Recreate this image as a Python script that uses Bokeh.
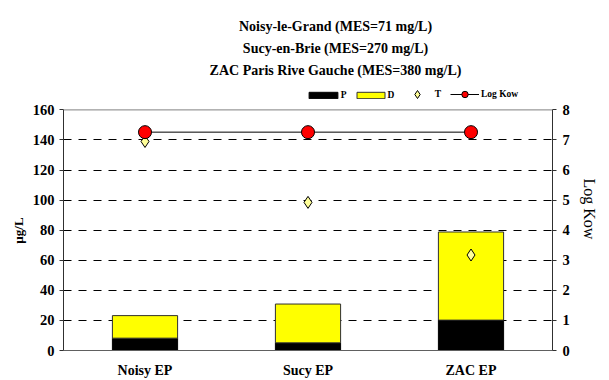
import math
from bokeh.plotting import figure
from bokeh.models import (FactorRange, Range1d, LinearAxis, FixedTicker, ColumnDataSource,
                          Legend, LegendItem, Label, Span)
from bokeh.embed import file_html
from bokeh.resources import INLINE

# ---- data ----
sites = ["Noisy EP", "Sucy EP", "ZAC EP"]
particulate = [8.2, 5.1, 20.2]          # P (µg/L)
dissolved = [15.0, 25.8, 58.6]          # D (µg/L)
total_T = [139.0, 98.5, 63.5]           # T (µg/L)
log_kow = [7.26, 7.26, 7.26]            # Log Kow (right axis)
y_ticks = [0, 20, 40, 60, 80, 100, 120, 140, 160]
kow_ticks = [0, 1, 2, 3, 4, 5, 6, 7, 8]
title_lines = ["Noisy-le-Grand (MES=71 mg/L)",
               "Sucy-en-Brie (MES=270 mg/L)",
               "ZAC Paris Rive Gauche (MES=380 mg/L)"]
legend_labels = ["P", "D", "T", "Log Kow"]
left_label = "µg/L"
right_label = "Log Kow"

FONT = "Liberation Serif"

# ---- layout (pixels) ----
W, H = 609, 380
FRAME_LEFT, FRAME_RIGHT = 63, 556
FRAME_TOP, AXIS_TOP, AXIS_BOTTOM = 6, 110, 352
stretch = (AXIS_BOTTOM - FRAME_TOP) / (AXIS_BOTTOM - AXIS_TOP)
NBSP = "\u00a0"

src = ColumnDataSource(dict(
    site=sites,
    p=particulate,
    d_top=[a + b for a, b in zip(particulate, dissolved)],
    t=total_T,
    kow=log_kow,
    zero=[0] * len(sites),
))

p = figure(x_range=FactorRange(*sites, range_padding=0),
           y_range=Range1d(y_ticks[0], y_ticks[-1] * stretch),
           width=W, height=H, output_backend="svg", toolbar_location=None,
           min_border_left=FRAME_LEFT, min_border_right=W - FRAME_RIGHT,
           min_border_top=FRAME_TOP, min_border_bottom=H - AXIS_BOTTOM)
p.extra_y_ranges = {"kow": Range1d(kow_ticks[0], kow_ticks[-1] * stretch)}

p.outline_line_color = None
p.background_fill_color = "white"
p.border_fill_color = "white"

# grid
p.xgrid.visible = False
p.ygrid.ticker = FixedTicker(ticks=y_ticks[:-1])
p.ygrid.grid_line_color = "black"
p.ygrid.grid_line_dash = "8 7"
p.ygrid.grid_line_width = 1
p.add_layout(Span(location=y_ticks[-1], dimension="width", line_color="#808080", line_width=1))

# x axis
xa = p.xaxis[0]
xa.major_tick_out = 0
xa.major_tick_in = 0
xa.major_label_text_font = FONT
xa.major_label_text_font_style = "bold"
xa.major_label_text_font_size = "14px"
xa.major_label_text_color = "black"
xa.major_label_standoff = 12
xa.axis_line_color = "#606060"

# left axis (label padded so that it is centred on the 0-160 part)
ya = p.yaxis[0]
ya.ticker = FixedTicker(ticks=y_ticks)
ya.bounds = (y_ticks[0], y_ticks[-1])
ya.major_tick_in = 0
ya.major_tick_out = 4
ya.minor_tick_line_color = None
ya.axis_line_color = "#303030"
ya.major_tick_line_color = "#303030"
ya.major_label_text_font = FONT
ya.major_label_text_font_style = "bold"
ya.major_label_text_font_size = "14.5px"
ya.major_label_text_color = "black"
ya.major_label_standoff = 5
ya.axis_label = left_label + NBSP * 32
ya.axis_label_text_font = FONT
ya.axis_label_text_font_style = "bold"
ya.axis_label_text_font_size = "13px"
ya.axis_label_text_color = "black"
ya.axis_label_standoff = 4

ra = LinearAxis(y_range_name="kow", ticker=FixedTicker(ticks=kow_ticks))
ra.bounds = (kow_ticks[0], kow_ticks[-1])
ra.major_tick_in = 0
ra.major_tick_out = 4
ra.minor_tick_line_color = None
ra.axis_line_color = "#303030"
ra.major_tick_line_color = "#303030"
ra.major_label_text_font = FONT
ra.major_label_text_font_style = "bold"
ra.major_label_text_font_size = "14.5px"
ra.major_label_text_color = "black"
ra.major_label_standoff = 6
ra.axis_label_text_font = FONT
ra.axis_label_text_font_style = "normal"
ra.axis_label_text_font_size = "16px"
ra.axis_label_text_color = "black"
ra.axis_label_standoff = 17
if "axis_label_orientation" in LinearAxis.properties():
    # read bottom-to-top, like the reference
    ra.axis_label_orientation = -math.pi / 2
    ra.axis_label = right_label + NBSP * 34
else:
    ra.axis_label = NBSP * 34 + right_label
p.add_layout(ra, "right")

# bars
rP = p.vbar(x="site", bottom="zero", top="p", width=0.4, source=src,
            fill_color="black", line_color="black", line_width=1)
rD = p.vbar(x="site", bottom="p", top="d_top", width=0.4, source=src,
            fill_color="#FFFF00", line_color="#303030", line_width=1)

# T diamonds
rT = p.scatter(x="site", y="t", source=src, marker="diamond", size=12,
               fill_color="#FFFF99", line_color="black", line_width=1)

# Log Kow line + circles
rL = p.line(x="site", y="kow", source=src, y_range_name="kow", line_color="black", line_width=1)
rC = p.scatter(x="site", y="kow", source=src, y_range_name="kow", marker="circle", size=13,
               fill_color="#FF0000", line_color="black", line_width=1)

# legend: one small legend per entry, placed side by side above the plot area
LEG_CY = 96  # page y of the legend row centre


def add_legend(label, renderers, box_left, gw, gh, standoff, lab_h):
    lg = Legend(items=[LegendItem(label=label, renderers=renderers)],
                location=(box_left - FRAME_LEFT, AXIS_BOTTOM - LEG_CY - lab_h / 2),
                orientation="horizontal")
    lg.margin = 0
    lg.padding = 0
    lg.border_line_alpha = 0
    lg.background_fill_alpha = 0
    lg.label_text_font = FONT
    lg.label_text_font_style = "bold"
    lg.label_text_font_size = "9.5px"
    lg.label_text_color = "black"
    lg.label_standoff = standoff
    lg.glyph_width = gw
    lg.glyph_height = gh
    lg.label_height = gh
    p.add_layout(lg, "center")


add_legend(legend_labels[0], [rP], 304.7, 36, 8, 0, 11)
add_legend(legend_labels[1], [rD], 352.5, 35, 8, 0, 11)
add_legend(legend_labels[2], [rT], 406.7, 20, 20, 8, 20)
add_legend(legend_labels[3], [rL, rC], 450, 29, 16, 2, 16)

# titles
for i, line in enumerate(title_lines):
    p.add_layout(Label(x=335 - FRAME_LEFT, y=AXIS_BOTTOM - (28 + 22 * i),
                       x_units="screen", y_units="screen",
                       text=line, text_align="center", text_baseline="alphabetic",
                       text_font=FONT, text_font_style="bold", text_font_size="14px",
                       text_color="black"))

open("out.html", "w").write(file_html(p, INLINE))
